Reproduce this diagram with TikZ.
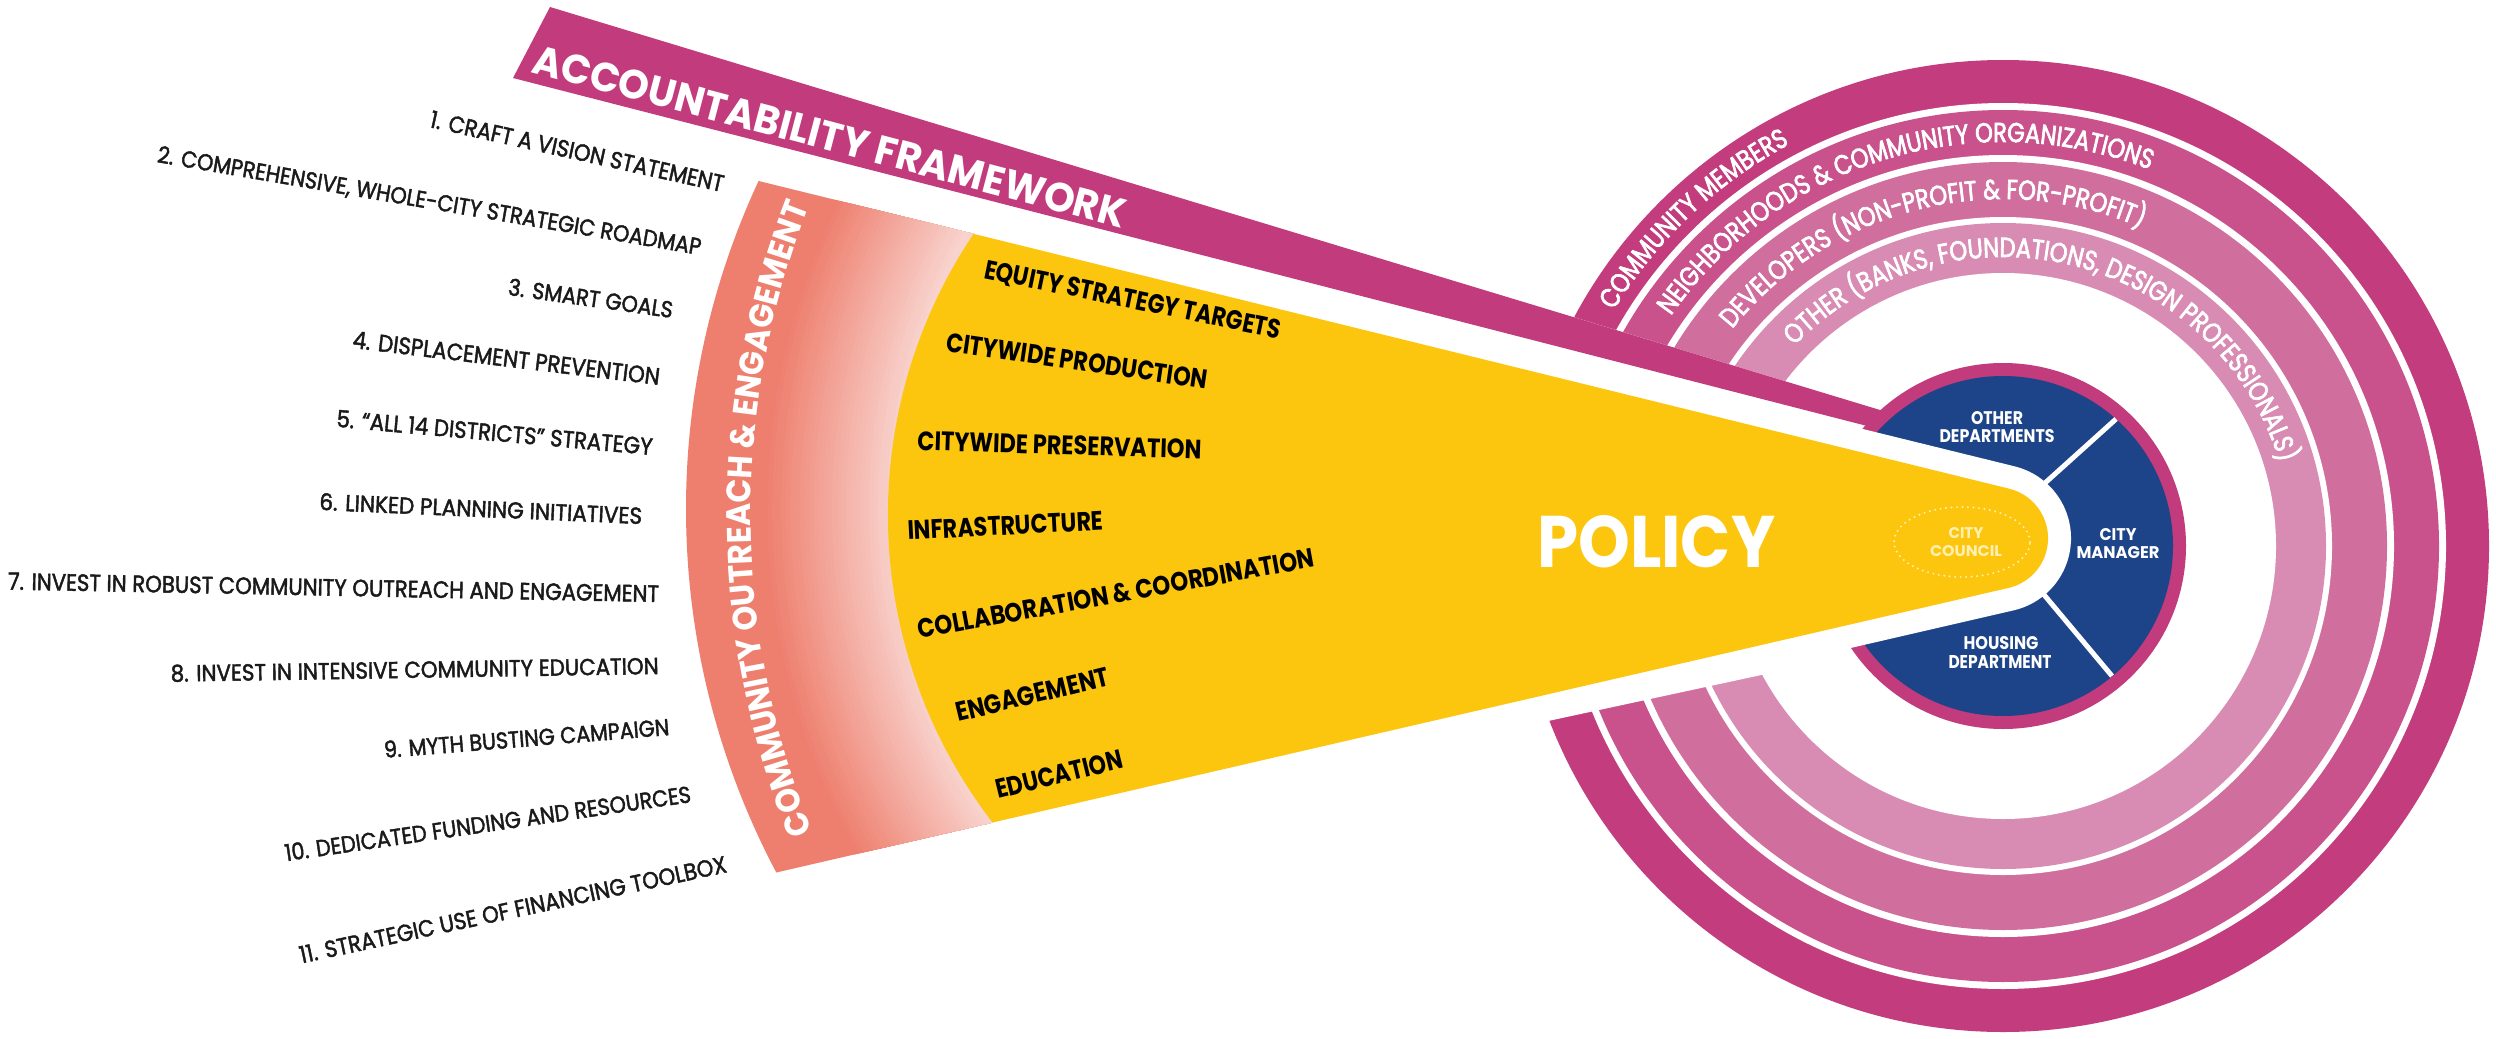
\documentclass[tikz,border=0pt]{standalone}
\usepackage{fontspec}
\setmainfont{Poppins}
\newfontfamily\ringfont[FakeStretch=0.82,FakeBold=2.5]{Poppins}
\newfontfamily\listfont[FakeBold=2]{Poppins}
\newfontfamily\coefont[FakeStretch=0.93]{Poppins}
\usepackage{graphicx}
\usetikzlibrary{decorations.text}
\definecolor{bandc}{HTML}{C23B7C}
\definecolor{ringa}{HTML}{C33C7D}
\definecolor{ringb}{HTML}{C9528C}
\definecolor{ringc}{HTML}{D06E9E}
\definecolor{ringd}{HTML}{D98CB3}
\definecolor{bluec}{HTML}{1D4488}
\definecolor{yellowc}{HTML}{FCC60F}
\definecolor{salmonc}{HTML}{EE7E6D}
\definecolor{palec}{HTML}{F8D2CC}
\definecolor{councilc}{HTML}{FFEFB0}
\definecolor{listc}{HTML}{1A1A1A}
\newcommand{\fitt}[3]{\resizebox{#1pt}{#2pt}{#3}}
\tikzset{
  lst/.style={anchor=base east, inner sep=0pt, text=listc, font=\listfont},
  ylab/.style={anchor=base west, inner sep=0pt, text=black},
  wlab/.style={anchor=center, inner sep=0pt, text=white},
}
\begin{document}
\begin{tikzpicture}[x=1pt,y=1pt]
\useasboundingbox (0,0) rectangle (2496,-1038);
\fill[white] (0,0) rectangle (2496,-1038);
\coordinate (C) at (2003,-546);
% stakeholder rings
\fill[ringa] (C) circle (486);
\fill[white] (C) circle (443);
\fill[ringb] (C) circle (436);
\fill[white] (C) circle (391);
\fill[ringc] (C) circle (384);
\fill[white] (C) circle (329);
\fill[ringd] (C) circle (323);
\fill[white] (C) circle (273);
% white cover of ring ends
\fill[white] (1450,-279.7) -- (2003,-447.3) -- (2003,-622.8) -- (1450,-742.2) -- cycle;
% accountability band
\fill[bandc] (550,-7) -- (1950,-431.2) -- (1950,-447.3) -- (513,-78) -- cycle;
% small circle
\fill[bandc] (C) circle (183);
\fill[bluec] (C) circle (170);
\draw[white, line width=5] (2035,-492) -- (2116,-419);
\draw[white, line width=5] (2040,-590) -- (2112,-676);
% white halo round the funnel
\filldraw[white, line width=46, line join=round] (973.7,-233.9) -- (2009.2,-488.7) arc[start angle=76.2, end angle=-77, radius=51] -- (992.6,-822.5) arc[start angle=217.6, end angle=146.1, radius=504] -- cycle;
% salmon gradient band
\begin{scope}
\clip (758.6,-181.0) -- (973.7,-233.9) arc[start angle=146.1, end angle=217.6, radius=504] -- (776.3,-872.5) arc[start angle=207.9, end angle=155.0, radius=777] -- cycle;
\fill[salmonc] (600,0) rectangle (1100,-1000);
\foreach \i in {0,...,28} {
  \pgfmathtruncatemacro\gp{100-\i*100/28}
  \pgfmathsetmacro\gr{700-\i*4.6}
  \fill[salmonc!\gp!palec] (1463,-509) circle (\gr);
}
\end{scope}
% yellow funnel
\fill[yellowc] (973.7,-233.9) -- (2009.2,-488.7) arc[start angle=76.2, end angle=-77, radius=51] -- (992.6,-822.5) arc[start angle=217.6, end angle=146.1, radius=504] -- cycle;
\draw[councilc, line width=2.2, dash pattern=on 0pt off 5.5pt, line cap=round] (1962,-542) ellipse [x radius=68, y radius=35];
% band title
\node[anchor=base west, inner sep=0pt, text=white, rotate=-14.8] (af) at (530,-72) {\fitt{612}{29}{\bfseries ACCOUNTABILITY FRAMEWORK}};
% numbered list
\node[lst, rotate=-12.5] (l1) at (722,-192) {\fitt{300}{17}{1. CRAFT A VISION STATEMENT}};
\node[lst, rotate=-9.7] (l2) at (700,-255) {\fitt{551}{17}{2. COMPREHENSIVE, WHOLE-CITY STRATEGIC ROADMAP}};
\node[lst, rotate=-8] (l3) at (672,-318) {\fitt{166}{17}{3. SMART GOALS}};
\node[lst, rotate=-6.9] (l4) at (659,-385) {\fitt{309}{17}{4. DISPLACEMENT PREVENTION}};
\node[lst, rotate=-5.1] (l5) at (652,-455) {\fitt{317}{17}{5. “ALL 14 DISTRICTS” STRATEGY}};
\node[lst, rotate=-2.5] (l6) at (642,-524) {\fitt{323}{17}{6. LINKED PLANNING INITIATIVES}};
\node[lst, rotate=-1.1] (l7) at (659,-602) {\fitt{651}{17}{7. INVEST IN ROBUST COMMUNITY OUTREACH AND ENGAGEMENT}};
\node[lst, rotate=0.9] (l8) at (659,-674) {\fitt{488}{17}{8. INVEST IN INTENSIVE COMMUNITY EDUCATION}};
\node[lst, rotate=4.6] (l9) at (670,-735) {\fitt{286}{17}{9. MYTH BUSTING CAMPAIGN}};
\node[lst, rotate=8.3] (l10) at (692,-802) {\fitt{410}{17}{10. DEDICATED FUNDING AND RESOURCES}};
\node[lst, rotate=12.1] (l11) at (728,-872) {\fitt{436}{17}{11. STRATEGIC USE OF FINANCING TOOLBOX}};
% yellow labels
\node[ylab, rotate=-11.6] (y1) at (983,-278) {\fitt{302}{19}{\bfseries EQUITY STRATEGY TARGETS}};
\node[ylab, rotate=-8.3] (y2) at (945,-351) {\fitt{264}{19}{\bfseries CITYWIDE PRODUCTION}};
\node[ylab, rotate=-1.8] (y3) at (917,-450) {\fitt{284}{19}{\bfseries CITYWIDE PRESERVATION}};
\node[ylab, rotate=2.9] (y4) at (908,-540) {\fitt{196}{19}{\bfseries INFRASTRUCTURE}};
\node[ylab, rotate=10.3] (y5) at (919,-639) {\fitt{403}{19}{\bfseries COLLABORATION \& COORDINATION}};
\node[ylab, rotate=13.6] (y6) at (958,-722) {\fitt{157}{19}{\bfseries ENGAGEMENT}};
\node[ylab, rotate=13.8] (y7) at (998,-799) {\fitt{130}{19}{\bfseries EDUCATION}};
\node[anchor=base west, inner sep=0pt, text=white] (pol) at (1537,-567) {\fitt{238}{52}{\bfseries POLICY}};
% blue disc labels
\node[wlab] (od1) at (1997,-418) {\fitt{52}{13}{\bfseries OTHER}};
\node[wlab] (od2) at (1997,-436) {\fitt{115}{13}{\bfseries DEPARTMENTS}};
\node[wlab] (cm1) at (2118,-535) {\fitt{37}{12}{\bfseries CITY}};
\node[wlab] (cm2) at (2118,-553) {\fitt{83}{12}{\bfseries MANAGER}};
\node[wlab] (hd1) at (2001,-643) {\fitt{75}{13}{\bfseries HOUSING}};
\node[wlab] (hd2) at (2000,-662) {\fitt{103}{13}{\bfseries DEPARTMENT}};
\node[wlab, text=councilc] (cc1) at (1966,-533) {\fitt{35}{11}{\bfseries CITY}};
\node[wlab, text=councilc] (cc2) at (1966,-551) {\fitt{72}{11}{\bfseries COUNCIL}};
% curved texts
\path[decorate, decoration={text along path, text align=center, text color=white,
  text={|\coefont\bfseries\fontsize{34}{34}\selectfont|COMMUNITY OUTREACH {\&} ENGAGEMENT}}]
  ([shift={(1588.5,-514.4)}]215.35:838) arc[start angle=215.35, end angle=145.35, radius=838];
\path[decorate, decoration={text along path, text align=center, text color=white,
  text={|\ringfont\fontsize{27.5}{27.5}\selectfont|COMMUNITY MEMBERS}}]
  ([shift={(C)}]163.4:455) arc[start angle=163.4, end angle=103.4, radius=455];
\path[decorate, decoration={text along path, text align=center, text color=white,
  text={|\ringfont\fontsize{27.5}{27.5}\selectfont|NEIGHBORHOODS {\&} COMMUNITY ORGANIZATIONS}}]
  ([shift={(C)}]157:404) arc[start angle=157, end angle=57, radius=404];
\path[decorate, decoration={text along path, text align=center, text color=white,
  text={|\ringfont\fontsize{27.5}{27.5}\selectfont|DEVELOPERS (NON-PROFIT {\&} FOR-PROFIT)}}]
  ([shift={(C)}]153.9:347) arc[start angle=153.9, end angle=53.9, radius=347];
\path[decorate, decoration={text along path, text align=center, text color=white,
  text={|\ringfont\fontsize{27.5}{27.5}\selectfont|OTHER (BANKS, FOUNDATIONS, DESIGN PROFESSIONALS)}}]
  ([shift={(C)}]151.45:289) arc[start angle=151.45, end angle=1.45, radius=289];
\end{tikzpicture}
\end{document}
